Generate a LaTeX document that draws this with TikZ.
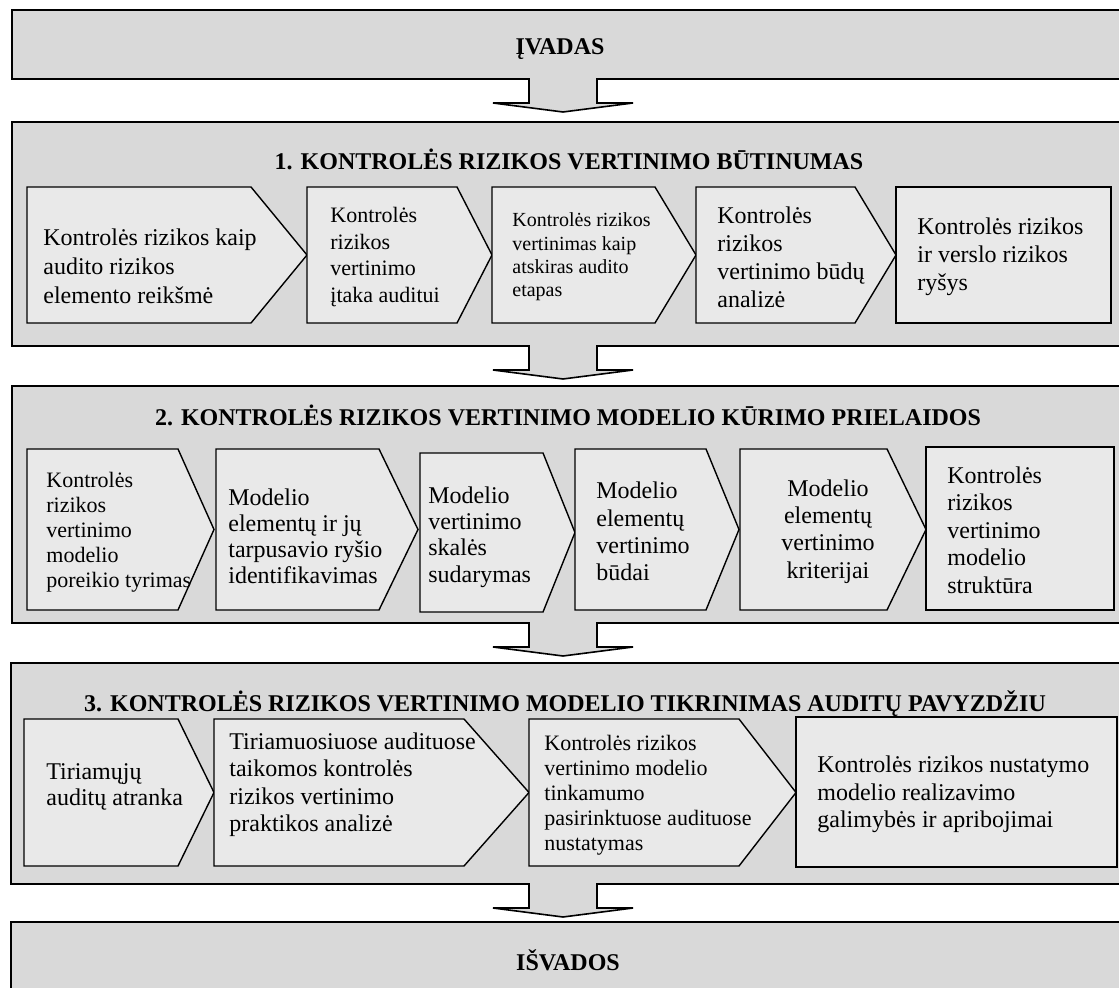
\documentclass[tikz,border=0pt]{standalone}
\usepackage{fontspec}
\setmainfont{Liberation Serif}
\usetikzlibrary{calc,fit}
\definecolor{outgray}{RGB}{217,217,217}
\definecolor{ingray}{RGB}{233,233,233}
\newcommand\hpent[5]{\draw[inbox] (#1,#4) -- (#2,#4) -- (#3,{(#4+#5)/2}) -- (#2,#5) -- (#1,#5) -- cycle;}
\newcommand\barrow[2]{%
  \draw[blockarrow] let \p1=(#1.south), \p2=(#2.north) in
    (264.5pt,\y1+0.45pt) -- (264.5pt,\y1-12pt) -- (246.5pt,\y1-12pt) --
    (281.5pt,\y1-16.5pt) -- (316.5pt,\y1-12pt) -- (298.5pt,\y1-12pt) --
    (298.5pt,\y1+0.45pt);}
\begin{document}
\begin{tikzpicture}[x=0.5pt,y=-0.5pt,
  secbox/.style={draw=black, fill=outgray, line width=0.8pt, inner sep=0pt, outer sep=0pt},
  inbox/.style={draw=black, fill=ingray, line width=0.7pt, line join=miter},
  blockarrow/.style={draw=black, fill=outgray, line width=0.8pt, line join=miter},
  ttl/.style={font=\bfseries\fontsize{12}{14}\selectfont, inner sep=0pt},
  tA/.style={font=\fontsize{12}{14}\selectfont, align=left, anchor=west, inner sep=0pt},
  tB/.style={font=\fontsize{11}{13.2}\selectfont, align=left, anchor=west, inner sep=0pt},
  tC/.style={font=\fontsize{10}{11.7}\selectfont, align=left, anchor=west, inner sep=0pt},
]
\useasboundingbox (0,0) rectangle (1119,988);
% section frames
\node[secbox, fit={(12,10) (1125,79)}] (intro) {};
\node[secbox, fit={(12,122) (1125,346)}] (s1) {};
\node[secbox, fit={(12,386) (1125,623)}] (s2) {};
\node[secbox, fit={(11,663) (1125,884)}] (s3) {};
\node[secbox, fit={(11,922) (1125,1000)}] (outro) {};
% block arrows
\barrow{intro}{s1}
\barrow{s1}{s2}
\barrow{s2}{s3}
\barrow{s3}{outro}
% titles
\node[ttl] (h0) at (560,49) {ĮVADAS};
\node[ttl] (h1) at (569,159) {1. KONTROLĖS RIZIKOS VERTINIMO BŪTINUMAS};
\node[ttl] (h2) at (568,415) {2. KONTROLĖS RIZIKOS VERTINIMO MODELIO KŪRIMO PRIELAIDOS};
\node[ttl] (h3) at (565,704) {3. KONTROLĖS RIZIKOS VERTINIMO MODELIO TIKRINIMAS AUDITŲ PAVYZDŽIU};
\node[ttl] (h4) at (568,960) {IŠVADOS};
% section 1 boxes
\hpent{27}{251}{307}{187}{323}
\hpent{307}{457}{492}{187}{323}
\hpent{492}{655}{696}{187}{323}
\hpent{696}{855}{896}{187}{323}
\draw[inbox] (896,187) rectangle (1111,323);
\node[tA, font=\fontsize{12}{14.5}\selectfont] (a1) at (43,266) {Kontrolės rizikos kaip\\audito rizikos\\elemento reikšmė};
\node[tB] (a2) at (330,257) {Kontrolės\\rizikos\\vertinimo\\įtaka auditui};
\node[tC] (a3) at (512,257) {Kontrolės rizikos\\vertinimas kaip\\atskiras audito\\etapas};
\node[tA] (a4) at (717,257) {Kontrolės\\rizikos\\vertinimo būdų\\analizė};
\node[tA] (a5) at (917,257) {Kontrolės rizikos\\ir verslo rizikos\\ryšys};
% section 2 boxes
\hpent{27}{178}{214}{449}{610}
\hpent{216}{379}{418}{449}{610}
\hpent{420}{543}{575}{453}{612}
\hpent{575}{706}{739}{449}{610}
\hpent{740}{887}{926}{449}{610}
\draw[inbox] (926,447) rectangle (1114,610);
\node[tB, font=\fontsize{11}{12.5}\selectfont] (b1) at (46,532) {Kontrolės\\rizikos\\vertinimo\\modelio\\poreikio tyrimas};
\node[tA, font=\fontsize{12}{13}\selectfont] (b2) at (228,536) {Modelio\\elementų ir jų\\tarpusavio ryšio\\identifikavimas};
\node[tA, font=\fontsize{12}{13.2}\selectfont] (b3) at (428,537) {Modelio\\vertinimo\\skalės\\sudarymas};
\node[tA, font=\fontsize{12}{13.6}\selectfont] (b4) at (596,531.5) {Modelio\\elementų\\vertinimo\\būdai};
\node[tA, font=\fontsize{12}{13.6}\selectfont, align=center, anchor=center] (b5) at (828,531.5) {Modelio\\elementų\\vertinimo\\kriterijai};
\node[tA, font=\fontsize{12}{13.75}\selectfont] (b6) at (947,530) {Kontrolės\\rizikos\\vertinimo\\modelio\\struktūra};
% section 3 boxes
\hpent{24}{178}{214}{719}{866}
\hpent{214}{464}{529}{719}{866}
\hpent{529}{739}{796}{719}{866}
\draw[inbox] (796,717) rectangle (1117,867);
\node[tA, font=\fontsize{12}{13}\selectfont] (c1) at (46,787) {Tiriamųjų\\auditų atranka};
\node[tA, font=\fontsize{12}{13.75}\selectfont] (c2) at (229,784.5) {Tiriamuosiuose audituose\\taikomos kontrolės\\rizikos vertinimo\\praktikos analizė};
\node[tB, font=\fontsize{11}{12.5}\selectfont] (c3) at (544,795) {Kontrolės rizikos\\vertinimo modelio\\tinkamumo\\pasirinktuose audituose\\nustatymas};
\node[tA, font=\fontsize{12}{13.75}\selectfont] (c4) at (817,794.5) {Kontrolės rizikos nustatymo\\modelio realizavimo\\galimybės ir apribojimai};
\end{tikzpicture}
\end{document}
